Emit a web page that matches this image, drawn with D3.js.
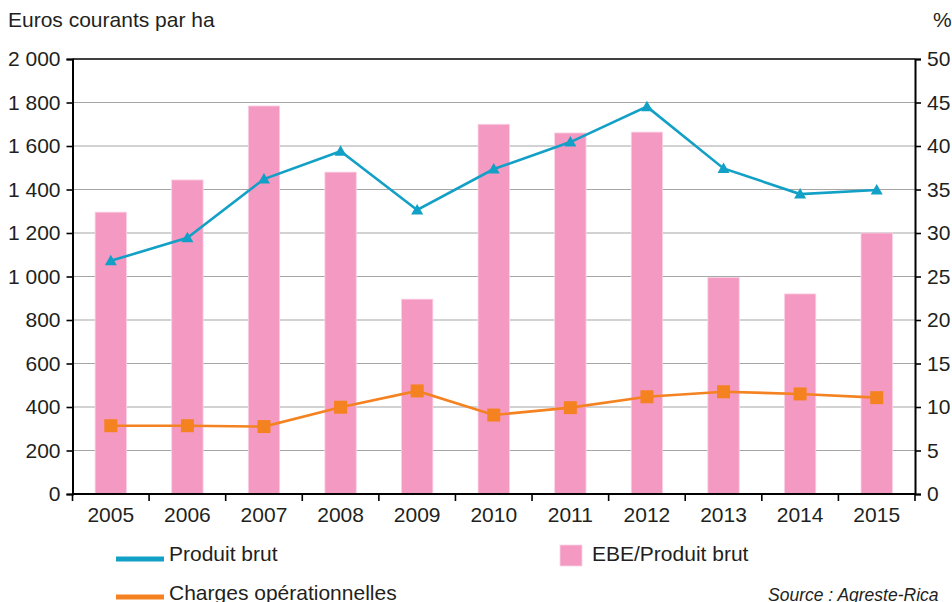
<!DOCTYPE html>
<html>
<head>
<meta charset="utf-8">
<script src="https://cdn.jsdelivr.net/npm/d3@7"></script>
<style>
  body { margin: 0; background: #fff; }
  svg text { font-family: "Liberation Sans", Arial, sans-serif; fill: #231f20; }
</style>
</head>
<body>
<div id="vis"></div>
<script>
// données
const years = ["2005","2006","2007","2008","2009","2010","2011","2012","2013","2014","2015"];
const produitBrut = [1072, 1178, 1448, 1576, 1306, 1494, 1618, 1781, 1497, 1379, 1398];
const charges = [314, 314, 310, 399, 474, 363, 397, 447, 470, 460, 443];
const ebeRatio = [32.4, 36.1, 44.6, 37.0, 22.4, 42.5, 41.5, 41.6, 24.9, 23.0, 30.0];
const leftTicks = [0, 200, 400, 600, 800, 1000, 1200, 1400, 1600, 1800, 2000];
const rightTicks = [0, 5, 10, 15, 20, 25, 30, 35, 40, 45, 50];

const width = 952, height = 602;
const m = {top: 59, left: 72.5, right: 915, bottom: 494};
const fs = 21;

const svg = d3.select("#vis").append("svg")
  .attr("width", width)
  .attr("height", height);

const x = d3.scaleBand().domain(years).range([m.left, m.right]).paddingInner(0).paddingOuter(0);
const yL = d3.scaleLinear().domain([0, 2000]).range([m.bottom, m.top]);
const yR = d3.scaleLinear().domain([0, 50]).range([m.bottom, m.top]);

const fmt = v => d3.format(",")(v).replace(/,/g, " ");

// gridlines
svg.append("g")
  .selectAll("line")
  .data(leftTicks.filter(d => d > 0 && d < 2000))
  .join("line")
  .attr("x1", m.left).attr("x2", m.right)
  .attr("y1", d => yL(d)).attr("y2", d => yL(d))
  .attr("stroke", "#a6a6a6")
  .attr("stroke-width", 1.2);

// bars (EBE / produit brut, axe de droite)
const bw = x.bandwidth() * 0.41;
svg.append("g")
  .selectAll("rect")
  .data(ebeRatio)
  .join("rect")
  .attr("x", (d, i) => x(years[i]) + x.bandwidth() / 2 - bw / 2)
  .attr("y", d => yR(d))
  .attr("width", bw)
  .attr("height", d => m.bottom - yR(d))
  .attr("fill", "#f49ac2")
  .attr("stroke", "#fbd3e5")
  .attr("stroke-width", 0.8);

// top frame line
svg.append("line")
  .attr("x1", m.left).attr("x2", m.right)
  .attr("y1", m.top).attr("y2", m.top)
  .attr("stroke", "#000").attr("stroke-width", 1.5);

// axes
const axL = svg.append("g")
  .attr("transform", `translate(${m.left},0)`)
  .call(d3.axisLeft(yL).tickValues(leftTicks).tickFormat(fmt).tickSize(6).tickPadding(6));
const axR = svg.append("g")
  .attr("transform", `translate(${m.right},0)`)
  .call(d3.axisRight(yR).tickValues(rightTicks).tickSize(6).tickPadding(6));
const axB = svg.append("g")
  .attr("transform", `translate(0,${m.bottom})`)
  .call(d3.axisBottom(x).tickSize(0).tickPadding(13));

[axL, axR, axB].forEach(a => {
  a.select(".domain").attr("stroke", "#000").attr("stroke-width", 2);
  a.selectAll(".tick line").attr("stroke", "#000").attr("stroke-width", 1.6);
  a.selectAll("text").attr("font-size", fs).attr("fill", "#231f20")
    .style("font-family", "'Liberation Sans', Arial, sans-serif");
});
axB.select(".domain").attr("d", `M${m.left},0H${m.right}`);

// bottom tick marks between categories
svg.append("g")
  .selectAll("line")
  .data(years.concat(["end"]))
  .join("line")
  .attr("x1", (d, i) => i < years.length ? x(d) : m.right)
  .attr("x2", (d, i) => i < years.length ? x(d) : m.right)
  .attr("y1", m.bottom).attr("y2", m.bottom + 7)
  .attr("stroke", "#000").attr("stroke-width", 1.6);

const cx = y => x(y) + x.bandwidth() / 2;

// lines
const blue = "#12a0c6", orange = "#f58220";
const line = d3.line().x((d, i) => cx(years[i])).y(d => yL(d));

svg.append("path").datum(produitBrut)
  .attr("d", line).attr("fill", "none")
  .attr("stroke", blue).attr("stroke-width", 2.6);
svg.append("path").datum(charges)
  .attr("d", line).attr("fill", "none")
  .attr("stroke", orange).attr("stroke-width", 2.6);

svg.append("g")
  .selectAll("path")
  .data(produitBrut)
  .join("path")
  .attr("transform", (d, i) => `translate(${cx(years[i])},${yL(d)})`)
  .attr("d", "M0,-6L6,4.5L-6,4.5Z")
  .attr("fill", blue);

svg.append("g")
  .selectAll("rect")
  .data(charges)
  .join("rect")
  .attr("x", (d, i) => cx(years[i]) - 6.5)
  .attr("y", d => yL(d) - 6.5)
  .attr("width", 13).attr("height", 13)
  .attr("fill", orange);

// titles
svg.append("text").attr("x", 8).attr("y", 27).attr("font-size", fs).text("Euros courants par ha");
svg.append("text").attr("x", 933).attr("y", 27).attr("font-size", fs).text("%");

// legend
const lg = svg.append("g");
lg.append("line").attr("x1", 116).attr("x2", 164).attr("y1", 559).attr("y2", 559)
  .attr("stroke", blue).attr("stroke-width", 5);
lg.append("text").attr("x", 169).attr("y", 561).attr("font-size", fs).text("Produit brut");
lg.append("line").attr("x1", 116).attr("x2", 164).attr("y1", 597).attr("y2", 597)
  .attr("stroke", orange).attr("stroke-width", 5);
lg.append("text").attr("x", 169).attr("y", 600).attr("font-size", fs).text("Charges opérationnelles");
lg.append("rect").attr("x", 560).attr("y", 545).attr("width", 22).attr("height", 21)
  .attr("fill", "#f49ac2").attr("stroke", "#fbd3e5").attr("stroke-width", 0.8);
lg.append("text").attr("x", 592).attr("y", 561).attr("font-size", fs).text("EBE/Produit brut");
svg.append("text").attr("x", 768).attr("y", 601).attr("font-size", 17.5)
  .attr("font-style", "italic").text("Source : Agreste-Rica");
</script>
</body>
</html>
